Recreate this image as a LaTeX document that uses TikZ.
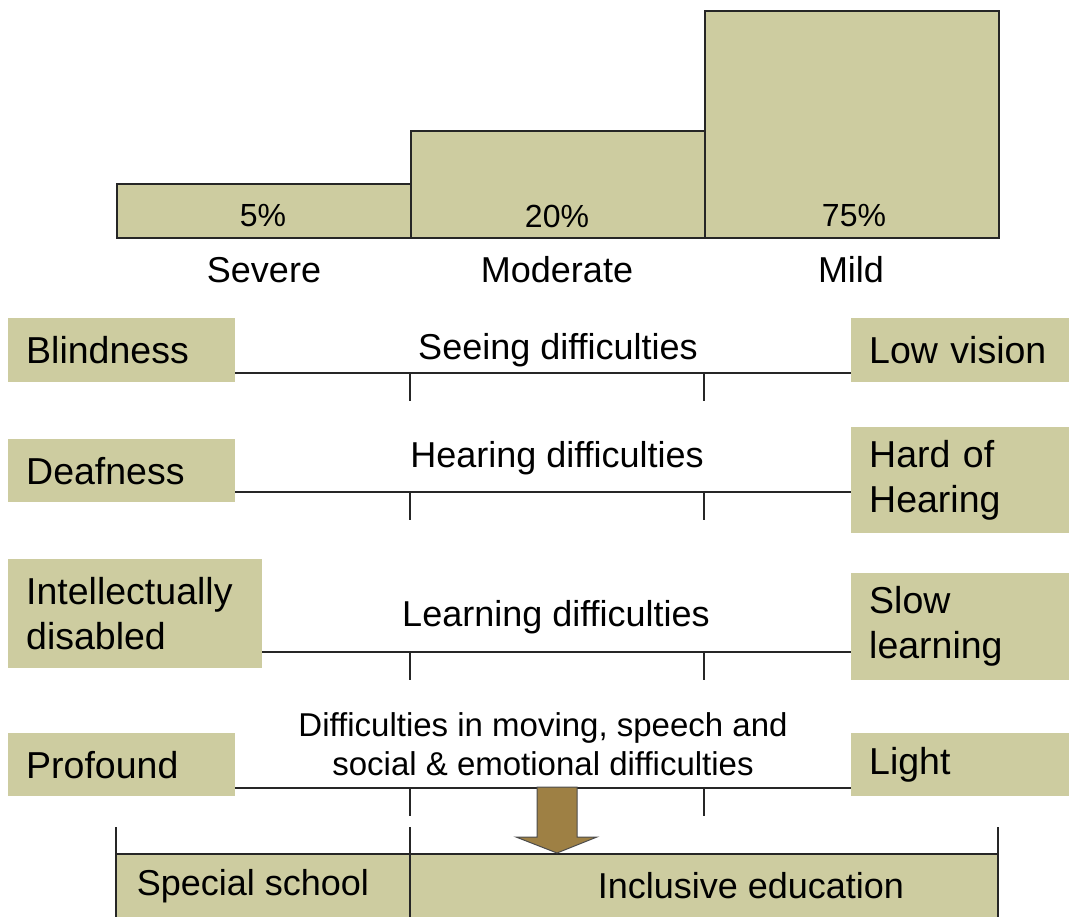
\documentclass[tikz,border=0pt]{standalone}
\usepackage{fontspec}
\setmainfont{Liberation Sans}
\usepackage{xcolor}
\usepackage{tikz}
\usetikzlibrary{calc}
\definecolor{khaki}{RGB}{205,204,160}
\definecolor{bronze}{RGB}{158,128,68}
\tikzstyle{bar}=[rectangle, draw=black!85, fill=khaki, line width=1.5pt,% percentage columns
anchor=south west, inner sep=0pt, minimum width=294pt]
\tikzstyle{kind}=[rectangle, fill=khaki, anchor=north west, inner xsep=18pt,% end-of-scale boxes
inner ysep=0pt, align=left, font=\fontsize{37.5}{45}\selectfont]
\tikzstyle{txt}=[inner sep=0pt, font=\fontsize{36}{44}\selectfont]
\tikzstyle{pct}=[inner sep=0pt, font=\fontsize{32}{39}\selectfont]
\tikzstyle{rule}=[line width=1.6pt, draw=black!85]
\tikzstyle{bigarrow}=[fill=bronze, draw=black!70, line width=1pt]

\begin{document}
\begin{tikzpicture}[x=1pt, y=-1pt]
\useasboundingbox (0,0) rectangle (1069,917);
% columns
\node[bar, minimum height=54pt] (severe) at (116,239) {};
\node[bar, minimum height=107pt] (moderate) at (410,239) {};
\node[bar, minimum height=227pt] (mild) at (704,239) {};
\node[pct] (p5) at (263,216) {5\%};
\node[pct] (p20) at (557,216) {20\%};
\node[pct] (p75) at (854,216) {75\%};
\node[txt] (lsev) at (264,270) {Severe};
\node[txt] (lmod) at (557,270) {Moderate};
\node[txt] (lmild) at (851,270) {Mild};

% scales
\node[kind, text width=191pt, minimum height=64pt] (blind) at (8,318) {Blindness};
\node[kind, text width=182pt, minimum height=64pt] (lowv) at (851,318) {Low vision};
\node[kind, text width=191pt, minimum height=63pt] (deaf) at (8,439) {Deafness};
\node[kind, text width=182pt, minimum height=106pt] (hoh) at (851,427) {Hard of\\Hearing};
\node[kind, text width=218pt, minimum height=109pt] (intel) at (8,559) {Intellectually\\disabled};
\node[kind, text width=182pt, minimum height=107pt] (slow) at (851,573) {Slow\\learning};
\node[kind, text width=191pt, minimum height=63pt] (prof) at (8,733) {Profound};
\node[kind, text width=182pt, minimum height=63pt] (light) at (851,733) {Light};

\node[txt] (see) at (558,350) {Seeing difficulties};
\node[txt] (hear) at (557,458) {Hearing difficulties};
\node[txt] (learn) at (556,617) {Learning difficulties};
\node[pct, align=center, font=\fontsize{33}{39}\selectfont] (move) at (543,744)
  {Difficulties in moving, speech and\\social \& emotional difficulties};

\coordinate (r1) at (0,373);
\coordinate (r2) at (0,492);
\coordinate (r3) at (0,652);
\coordinate (r4) at (0,788);
\draw[rule] (blind.east |- r1) -- (lowv.west |- r1);
\draw[rule] (deaf.east |- r2) -- (hoh.west |- r2);
\draw[rule] (intel.east |- r3) -- (slow.west |- r3);
\draw[rule] (prof.east |- r4) -- (light.west |- r4);
\foreach \y in {373,492,652,788}
  \foreach \x in {410,704}
    \draw[rule] (\x,\y) -- ++(0,28);

% school types
\node[fill=khaki, anchor=north west, inner sep=0pt, minimum width=294pt, minimum height=80pt] (special) at (116,854) {};
\node[fill=khaki, anchor=north west, inner sep=0pt, minimum width=588pt, minimum height=80pt] (incl) at (410,854) {};
\node[txt] (lspecial) at (253,886) {Special school};
\node[txt] (lincl) at (751,886) {Inclusive education};
\draw[rule] (special.north west) -- (incl.north east);
\foreach \x in {116,410,998}
  \draw[rule] (\x,827) -- (\x,935);

\draw[bigarrow] (537,787) -- (577,787) -- (577,837) -- (597,837) -- (557,853)
  -- (516,837) -- (537,837) -- cycle;
\end{tikzpicture}
\end{document}
